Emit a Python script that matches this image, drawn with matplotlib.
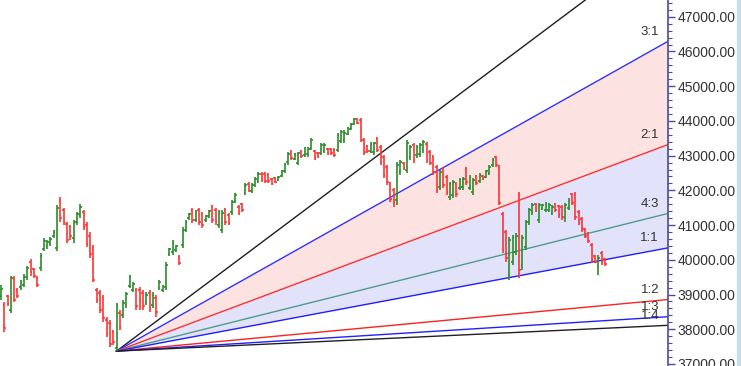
import numpy as np
from matplotlib import pyplot as plt
from matplotlib.patches import Rectangle
from matplotlib.ticker import MultipleLocator, FormatStrFormatter

# Daily bars (high, low, open, close)
high = [39280, 38790, 38990, 39530, 39530, 39190, 39420, 39590, 39820, 40020,
        39770, 39530, 40200, 40630, 40570, 40660, 40860, 41580, 41810, 41490,
        41090, 41000, 41150, 41380, 41610, 41440, 41090, 40800, 40430, 39190,
        39130, 38990, 38350, 38270, 37980, 38760,
        38560, 38840, 39070, 39560, 39360, 39190, 39220, 39130, 39070, 39130,
        39070, 38990, 39420, 39280, 39940, 40340, 40570, 40430, 40140, 40950,
        41150, 41350, 41490,
        41440, 41490, 41380, 41290, 41440, 41580, 41490, 41440, 41440, 41490,
        41350, 41720, 41930, 41580, 41640, 42210, 42240, 42210, 42390, 42530,
        42530, 42530, 42500, 42360, 42390, 42410, 42590, 42790, 43110,
        43160, 43080, 43110, 43160, 43250, 43250, 43510, 43160, 43110, 43370,
        43370, 43220, 43220, 43220, 43650, 43740, 43740, 43830, 43940, 44090,
        44090, 44090, 43510, 43310, 43390, 43390, 43540, 43310, 43020, 42730,
        42240, 42070, 42820, 42880, 42820, 43450, 43310, 43370, 43310, 43370,
        43450, 43390, 43160, 43020, 42730, 42590, 42670, 42440, 42240, 42300,
        42240, 42360, 42390, 42670, 42440, 42360, 42440, 42500, 42440, 42590,
        42730, 42930, 42990, 42730, 41380, 40860, 40660, 40720, 40770, 41950,
        40720, 41150, 41490, 41640, 41640, 41640, 41610, 41670, 41640, 41580,
        41640, 41580, 41580, 41640, 41780, 41930, 41950, 41440, 41230, 40920,
        40800, 40490, 40140, 40140, 40250, 40050]
low = [38840, 37920, 38670, 38470, 38790, 38900, 39130, 39220, 39420, 39530,
       39480, 39220, 39680, 40250, 40310, 40400, 40630, 40250, 41090, 41000,
       40490, 40570, 40490, 41000, 41210, 40860, 40370, 40050, 39360, 38760,
       38470, 38210, 37780, 37490, 37550, 37370,
       37980, 38330, 38610, 39190, 39070, 38560, 38560, 38560, 38700, 38500,
       38610, 38350, 39130, 39070, 39130, 40110, 40140, 40230, 39850, 40340,
       40800, 41150, 41060,
       41090, 41000, 40920, 41090, 41210, 41060, 41000, 40920, 40770, 41000,
       41000, 41290, 41640, 41290, 41380, 41870, 41950, 41930, 42100, 42210,
       42240, 42210, 42210, 42160, 42210, 42270, 42390, 42500, 42730,
       42880, 42880, 42730, 42930, 42960, 42960, 43160, 42880, 42930, 43020,
       43080, 43020, 43020, 42960, 43110, 43370, 43370, 43600, 43740, 43880,
       43910, 43390, 43020, 43080, 43080, 43020, 43110, 42730, 42360, 42160,
       41670, 41520, 41580, 42440, 42590, 42500, 42880, 42790, 42930, 42960,
       43080, 42790, 42730, 42440, 41930, 42010, 42070, 41870, 41720, 41780,
       41810, 42010, 42010, 42160, 42010, 41870, 42160, 42210, 42300, 42360,
       42440, 42670, 42670, 41580, 40200, 39940, 39420, 39850, 40140, 39480,
       39710, 40280, 41000, 41290, 41380, 41060, 41440, 41380, 41380, 41290,
       41380, 41210, 41150, 41090, 41440, 41580, 41150, 41000, 40800, 40630,
       40490, 39910, 39910, 39560, 39850, 39820]
open_ = [38960, 38700, 38960, 38560, 39450, 39130, 39220, 39280, 39510, 39940,
         39740, 39480, 39770, 40310, 40400, 40490, 40690, 40340, 41720, 41440,
         41030, 40950, 40630, 41090, 41290, 41380, 41000, 40690, 40340, 39130,
         39050, 38900, 38270, 38180, 37920, 37460,
         38470, 38410, 38700, 39250, 39130, 39130, 39130, 39050, 38790, 39050,
         38700, 38900, 39190, 39130, 39220, 40170, 40230, 40280, 40080, 40430,
         40860, 41210, 41440,
         41150, 41440, 41320, 41150, 41260, 41520, 41440, 41000, 40860, 41440,
         41290, 41380, 41690, 41520, 41610, 41930, 42180, 41980, 42160, 42270,
         42470, 42470, 42440, 42330, 42360, 42300, 42410, 42560, 42820,
         43110, 42900, 42790, 43130, 43020, 43050, 43220, 43130, 43080, 43080,
         43140, 43190, 43190, 43160, 43160, 43420, 43450, 43620, 43770, 43910,
         44060, 44030, 43450, 43280, 43140, 43110, 43480, 43250, 42960, 42670,
         42180, 42010, 41720, 42530, 42790, 42590, 42960, 43310, 43020, 43050,
         43160, 43340, 43110, 42960, 42670, 42100, 42620, 42390, 41810, 41870,
         42180, 42070, 42100, 42620, 42070, 41950, 42410, 42270, 42410, 42390,
         42500, 42730, 42960, 42670, 41320, 40800, 39560, 39940, 40230, 41870,
         39850, 40370, 41090, 41380, 41610, 41150, 41460, 41440, 41440, 41350,
         41610, 41550, 41520, 41210, 41490, 41900, 41900, 41380, 41170, 40890,
         40740, 40430, 40110, 39820, 40200, 40030]
close = [39160, 38040, 38730, 39480, 38840, 38960, 39360, 39510, 39770, 39650,
         39530, 39280, 40110, 40540, 40510, 40600, 40800, 41490, 41210, 41090,
         40570, 40690, 41090, 41320, 41520, 40950, 40460, 40170, 39420, 38840,
         38560, 38330, 37860, 37580, 37630, 38670,
         38060, 38760, 39020, 39510, 39300, 38670, 38840, 38670, 38990, 38610,
         38990, 38500, 39360, 39250, 39850, 40310, 40490, 40400, 39910, 40860,
         41090, 41320, 41150,
         41380, 41090, 41000, 41260, 41410, 41150, 41090, 41380, 41350, 41090,
         41060, 41670, 41870, 41350, 41440, 42160, 42010, 42160, 42330, 42470,
         42300, 42270, 42270, 42180, 42240, 42390, 42560, 42760, 43050,
         42930, 43050, 43080, 42990, 43220, 43190, 43450, 42930, 42960, 43310,
         43310, 43050, 43080, 43020, 43600, 43680, 43650, 43800, 43910, 44060,
         43940, 43450, 43110, 43140, 43340, 43370, 43160, 42820, 42440, 42240,
         41750, 41640, 42730, 42820, 42650, 43370, 43250, 42880, 43250, 43310,
         43390, 42880, 42790, 42530, 42010, 42530, 42160, 41950, 42180, 42240,
         41900, 42300, 42330, 42240, 42390, 42300, 42210, 42440, 42330, 42560,
         42670, 42880, 42730, 41640, 40280, 40050, 40570, 40630, 40690, 39710,
         40630, 41090, 41440, 41580, 41440, 41580, 41580, 41610, 41580, 41520,
         41440, 41290, 41230, 41580, 41720, 41640, 41230, 41090, 40890, 40690,
         40540, 40000, 39940, 40050, 39940, 39880]

# Gann fan: starts at the swing low, 1x1 = points per bar
fan_start = 35
fan_unit = 17.8
fan_names = ['4:1', '3:1', '2:1', '4:3', '1:1', '1:2', '1:3', '1:4']
fan_ratios = [4, 3, 2, 4 / 3, 1, 1 / 2, 1 / 3, 1 / 4]
fan_colors = ['#1e1e1e', '#3030ff', '#ff3030', '#4f9c8c', '#2020ff',
              '#ff2020', '#2020ff', '#202020']

x = np.arange(len(close))
x_min, x_max = -0.3, 202.1
y_min, y_max = 36942, 47483

fig = plt.figure(figsize=(7.41, 3.66), dpi=100)
ax = fig.add_axes([0, 0, 668 / 741, 1])
ax.set_xlim(x_min, x_max)
ax.set_ylim(y_min, y_max)

# fan lines and shaded zones
fx = np.array([fan_start, x_max])
base = low[fan_start]
fan = {}
for name, r in zip(fan_names, fan_ratios):
    fan[name] = base + fan_unit * r * (fx - fan_start)
ax.fill_between(fx, fan['3:1'], fan['2:1'], color='#fde2e2', lw=0, zorder=1)
ax.fill_between(fx, fan['2:1'], fan['1:1'], color='#e2e2fb', lw=0, zorder=1)
for name, c in zip(fan_names, fan_colors):
    ax.plot(fx, fan[name], color=c, lw=1.0, zorder=2)
    if name != '4:1':
        ax.annotate(name, xy=(x_max, fan[name][-1]), xytext=(-6.5, 2.5),
                    textcoords='offset points', ha='right', va='bottom',
                    fontsize=9.5, color='#333333', family='Liberation Sans')

# OHLC bars
hi = np.array(high)
lo = np.array(low)
op = np.array(open_)
cl = np.array(close)
colors = np.where(cl >= op, '#2a8c2a', '#ff3333')
ax.vlines(x, lo, hi, colors=colors, lw=1.2, zorder=3)
ax.hlines(op, x - 0.5, x, colors=colors, lw=1.2, zorder=3)
ax.hlines(cl, x, x + 0.5, colors=colors, lw=1.2, zorder=3)

# price axis on the right
for s in ['left', 'top', 'bottom']:
    ax.spines[s].set_visible(False)
ax.spines['right'].set_color('#4a4a9a')
ax.spines['right'].set_linewidth(1.2)
ax.xaxis.set_visible(False)
ax.yaxis.tick_right()
ax.yaxis.set_major_locator(MultipleLocator(1000))
ax.yaxis.set_minor_locator(MultipleLocator(200))
ax.yaxis.set_major_formatter(FormatStrFormatter('%.2f'))
ax.tick_params(axis='y', which='major', length=5, width=1, color='#4a4a9a',
               labelsize=10, labelcolor='#333333', pad=2)
ax.tick_params(axis='y', which='minor', length=3, width=0.8, color='#4a4a9a')
for t in ax.get_yticklabels():
    t.set_family('Liberation Sans')

# light strip on the far right edge
fig.patches.append(Rectangle((737 / 741, 0), 4 / 741, 1, transform=fig.transFigure,
                             color='#c8dcf0', zorder=0))

fig.savefig('out.png', dpi=100)
